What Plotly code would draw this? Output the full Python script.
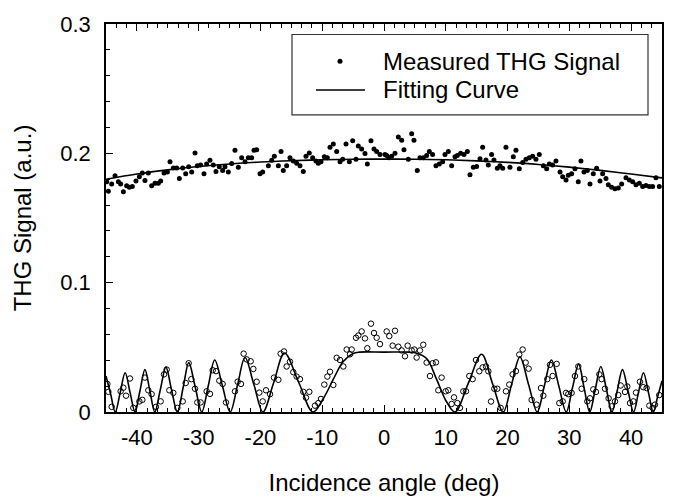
import plotly.graph_objects as go

# ---------------- data ----------------
# Upper series: measured THG signal (filled dots)
upper_angle = [-44.89, -44.62, -44.08, -43.54, -43.0, -42.63, -42.19, -41.66, -41.22, -40.74,
               -40.15, -39.60, -39.12, -38.69, -38.15, -37.61, -37.07, -36.53, -36.15, -35.61,
               -35.07, -34.64, -34.10, -33.56, -33.13, -32.59, -32.10, -31.62, -31.13, -30.59,
               -30.22, -29.68, -29.14, -28.71, -28.17, -27.63, -27.20, -26.66, -26.12, -25.74,
               -25.20, -24.66, -24.12, -23.58, -23.04, -22.50, -21.96, -21.42, -21.04, -20.61,
               -20.07, -19.64, -18.72, -18.18, -17.75, -17.10, -16.67, -16.30, -15.76, -15.22,
               -14.68, -14.14, -13.60, -13.06, -12.63, -12.09, -11.55, -11.01, -10.63, -10.20,
               -9.66, -9.17, -8.74, -8.20, -7.66, -7.12, -6.69, -6.15, -5.61, -5.07,
               -4.53, -4.16, -3.62, -3.08, -2.70, -2.11, -1.62, -1.19, -0.65, 0.16,
               0.43, 0.81, 1.24, 1.78, 2.32, 2.86, 3.23, 3.94, 4.48, 4.85,
               5.39, 5.82, 6.36, 6.90, 7.34, 7.87, 8.41, 8.95, 9.49, 9.87,
               10.41, 10.95, 11.49, 11.87, 12.41, 12.95, 13.49, 13.92, 14.46, 15.00,
               15.54, 15.97, 16.51, 16.89, 17.42, 17.80, 18.34, 18.77, 19.21, 19.74,
               20.39, 20.93, 21.36, 21.90, 22.44, 22.98, 23.52, 24.06, 24.60, 25.14,
               25.79, 26.33, 26.76, 27.30, 27.84, 28.49, 28.92, 29.46, 29.83, 30.37,
               30.91, 31.45, 31.88, 32.37, 32.91, 33.34, 33.88, 34.42, 34.96, 35.39,
               35.93, 36.31, 36.85, 37.39, 37.93, 38.47, 39.17, 39.71, 40.25, 40.79,
               41.33, 41.87, 42.41, 42.95, 43.48, 44.02, 44.56]
upper_signal = [0.1781, 0.1707, 0.1762, 0.1826, 0.1781, 0.1762, 0.1702, 0.1749, 0.1737, 0.1744,
                0.1786, 0.1818, 0.1848, 0.1789, 0.1848, 0.1749, 0.1769, 0.1769, 0.1786, 0.1848,
                0.1855, 0.1934, 0.1887, 0.1887, 0.1806, 0.1887, 0.1843, 0.1897, 0.1855, 0.2003,
                0.1904, 0.1909, 0.1843, 0.1917, 0.1946, 0.1909, 0.1860, 0.1897, 0.1868, 0.1897,
                0.1855, 0.1922, 0.2023, 0.1892, 0.1966, 0.1934, 0.1966, 0.1966, 0.2023, 0.2028,
                0.1843, 0.1855, 0.1904, 0.1946, 0.1978, 0.1904, 0.2015, 0.1868, 0.1904, 0.1966,
                0.1941, 0.1924, 0.1904, 0.1860, 0.1978, 0.2003, 0.1966, 0.1941, 0.1924, 0.1934,
                0.1973, 0.1966, 0.2047, 0.2072, 0.2015, 0.1934, 0.1954, 0.2072, 0.1934, 0.2097,
                0.1954, 0.2057, 0.2033, 0.1998, 0.1917, 0.2097, 0.2033, 0.2015, 0.1991, 0.1991,
                0.1983, 0.1966, 0.1978, 0.2000, 0.2126, 0.2102, 0.2028, 0.1954, 0.2151, 0.2102,
                0.1868, 0.1966, 0.1966, 0.1983, 0.2015, 0.1991, 0.1904, 0.1917, 0.1934, 0.1991,
                0.2015, 0.1904, 0.1973, 0.1983, 0.2000, 0.1991, 0.2015, 0.1835, 0.1892, 0.1899,
                0.1959, 0.2047, 0.1949, 0.1909, 0.1991, 0.1949, 0.1885, 0.1904, 0.1885, 0.2047,
                0.1892, 0.1973, 0.2023, 0.1880, 0.1929, 0.1954, 0.1966, 0.1978, 0.1954, 0.1991,
                0.1904, 0.1880, 0.1917, 0.1909, 0.1941, 0.1855, 0.1818, 0.1794, 0.1830, 0.1843,
                0.1880, 0.1781, 0.1941, 0.1855, 0.1868, 0.1762, 0.1843, 0.1885, 0.1786, 0.1843,
                0.1806, 0.1757, 0.1737, 0.1727, 0.1732, 0.1762, 0.1811, 0.1794, 0.1781, 0.1757,
                0.1769, 0.1744, 0.1752, 0.1744, 0.1744, 0.1811, 0.1744]

# Upper fitting curve
upper_fit_angle = [-45, -40, -35, -30, -25, -20, -15, -10, -5, 0, 5, 10, 15, 20, 25, 30, 35, 40, 45]
upper_fit_signal = [0.1800, 0.1840, 0.1872, 0.1898, 0.1918, 0.1933, 0.1943, 0.1950, 0.1954, 0.1955,
                    0.1954, 0.1950, 0.1942, 0.1930, 0.1914, 0.1893, 0.1868, 0.1840, 0.1810]

# Lower series: measured THG signal (open circles)
lower_angle = [-44.78, -44.62, -44.08, -42.63, -42.19, -41.76, -41.12, -40.58, -39.60, -39.12,
               -38.69, -38.15, -37.61, -36.91, -36.15, -35.61, -35.18, -34.75, -34.10, -33.45,
               -32.59, -32.10, -31.62, -31.19, -30.59, -30.22, -29.68, -28.71, -28.17, -27.73,
               -27.20, -26.66, -26.12, -25.58, -24.12, -23.69, -23.15, -22.72, -22.23, -21.58,
               -21.15, -20.61, -20.18, -19.64, -19.10, -18.45, -17.81, -17.10, -16.73, -16.19,
               -15.76, -15.22, -14.68, -14.14, -13.60, -13.06, -12.63, -12.09, -11.17, -10.63,
               -10.20, -9.66, -9.17, -8.74, -8.20, -7.66, -7.12, -6.58, -6.04, -5.51,
               -5.24, -4.53, -4.16, -3.62, -3.08, -2.70, -2.11, -1.62, -1.19, -0.65,
               0.43, 0.86, 1.40, 1.78, 2.32, 2.86, 3.40, 3.83, 4.48, 4.91,
               5.28, 5.82, 6.36, 6.90, 7.44, 7.87, 8.41, 8.79, 9.33, 9.98,
               10.41, 10.95, 11.33, 11.87, 12.30, 12.84, 13.27, 13.81, 14.35, 14.89,
               15.43, 15.97, 16.51, 16.89, 17.32, 17.86, 18.34, 18.88, 19.74, 20.28,
               20.82, 21.36, 21.90, 22.44, 22.93, 23.41, 23.90, 24.71, 25.41, 25.79,
               26.43, 26.87, 27.30, 27.95, 28.38, 28.92, 29.46, 29.83, 30.37, 30.91,
               31.45, 31.99, 32.42, 32.91, 33.34, 33.88, 34.31, 34.85, 35.23, 35.77,
               36.36, 36.85, 37.39, 37.93, 38.31, 39.01, 39.38, 39.82, 40.36, 40.79,
               41.43, 41.97, 42.51, 42.95, 43.49, 43.86, 44.56]
lower_signal = [0.0217, 0.0156, 0.0040, 0.0160, 0.0188, 0.0126, 0.0259, 0.0032, 0.0082, 0.0094,
                0.0266, 0.0168, 0.0138, 0.0040, 0.0082, 0.0291, 0.0328, 0.0168, 0.0148, 0.0032,
                0.0082, 0.0224, 0.0377, 0.0254, 0.0180, 0.0074, 0.0074, 0.0160, 0.0140, 0.0323,
                0.0316, 0.0242, 0.0217, 0.0074, 0.0160, 0.0234, 0.0217, 0.0451, 0.0407, 0.0392,
                0.0333, 0.0234, 0.0150, 0.0082, 0.0168, 0.0138, 0.0266, 0.0249, 0.0451, 0.0468,
                0.0352, 0.0389, 0.0308, 0.0274, 0.0254, 0.0156, 0.0111, 0.0156, 0.0049, 0.0069,
                0.0101, 0.0212, 0.0274, 0.0311, 0.0209, 0.0419, 0.0402, 0.0352, 0.0483, 0.0446,
                0.0483, 0.0574, 0.0591, 0.0623, 0.0569, 0.0493, 0.0683, 0.0611, 0.0574, 0.0525,
                0.0623, 0.0587, 0.0513, 0.0628, 0.0505, 0.0476, 0.0431, 0.0513, 0.0476, 0.0483,
                0.0421, 0.0476, 0.0520, 0.0382, 0.0278, 0.0377, 0.0384, 0.0168, 0.0266, 0.0160,
                0.0168, 0.0062, 0.0113, 0.0069, 0.0032, 0.0160, 0.0160, 0.0278, 0.0254, 0.0402,
                0.0315, 0.0345, 0.0352, 0.0315, 0.0081, 0.0180, 0.0180, 0.0032, 0.0160, 0.0212,
                0.0291, 0.0316, 0.0444, 0.0483, 0.0382, 0.0335, 0.0094, 0.0057, 0.0185, 0.0126,
                0.0254, 0.0365, 0.0278, 0.0372, 0.0069, 0.0082, 0.0148, 0.0138, 0.0148, 0.0278,
                0.0352, 0.0180, 0.0254, 0.0082, 0.0106, 0.0175, 0.0155, 0.0291, 0.0254, 0.0180,
                0.0106, 0.0044, 0.0082, 0.0131, 0.0205, 0.0155, 0.0197, 0.0069, 0.0082, 0.0150,
                0.0234, 0.0192, 0.0185, 0.0049, 0.0032, 0.0057, 0.0131]

# Lower fitting curve (peaks, zeros and half-height points)
lower_fit_angle = [-45.0, -44.25, -43.5, -42.7, -41.9, -41.1, -40.3, -39.5, -38.7, -37.9,
                   -37.1, -36.2, -35.3, -34.4, -33.45, -32.5, -31.6, -30.55, -29.5, -28.45,
                   -27.4, -26.15, -24.9, -23.7, -22.5, -21.05, -19.6, -17.85, -16.1, -13.8,
                   -11.5, -9.8, -8.2, -6.6, -5.0, -4.0, 0.0, 4.0, 5.3, 6.9,
                   8.5, 10.1, 11.5, 13.65, 15.8, 17.55, 19.3, 20.65, 22.0, 23.4,
                   24.8, 25.95, 27.1, 28.3, 29.5, 30.5, 31.5, 32.4, 33.3, 34.2,
                   35.1, 36.0, 36.9, 37.75, 38.6, 39.5, 40.4, 41.2, 42.0, 42.8,
                   43.6, 44.3, 45.0]
lower_fit_signal = [0.0278, 0.0139, 0.0, 0.0150, 0.0303, 0.0150, 0.0, 0.0164, 0.0328, 0.0164,
                    0.0, 0.0174, 0.0347, 0.0174, 0.0, 0.0191, 0.0382, 0.0191, 0.0, 0.0201,
                    0.0402, 0.0201, 0.0, 0.0211, 0.0421, 0.0211, 0.0, 0.0228, 0.0456, 0.0228,
                    0.0, 0.0106, 0.0254, 0.0390, 0.0452, 0.0463, 0.0463, 0.0463, 0.0455, 0.0414,
                    0.0254, 0.0081, 0.0, 0.0223, 0.0446, 0.0223, 0.0, 0.0213, 0.0426, 0.0213,
                    0.0, 0.0201, 0.0402, 0.0201, 0.0, 0.0185, 0.0370, 0.0185, 0.0, 0.0176,
                    0.0352, 0.0176, 0.0, 0.0164, 0.0328, 0.0164, 0.0, 0.0152, 0.0303, 0.0152,
                    0.0, 0.0120, 0.0240]

x_tick_vals = [-40, -30, -20, -10, 0, 10, 20, 30, 40]
x_tick_text = ["-40", "-30", "-20", "-10", "0", "10", "20", "30", "40"]
y_tick_vals = [0, 0.1, 0.2, 0.3]
y_tick_text = ["0", "0.1", "0.2", "0.3"]

legend_labels = ["Measured THG Signal", "Fitting Curve"]

# ---------------- figure ----------------
FONT = "Liberation Sans, Arial, Helvetica, sans-serif"
fig = go.Figure()

fig.add_trace(go.Scatter(x=lower_fit_angle, y=lower_fit_signal, mode="lines",
                         line=dict(color="black", width=1.6, shape="spline", smoothing=1.0),
                         showlegend=False, hoverinfo="skip"))
fig.add_trace(go.Scatter(x=upper_fit_angle, y=upper_fit_signal, mode="lines",
                         line=dict(color="black", width=1.6, shape="spline"),
                         name=legend_labels[1], showlegend=False))
fig.add_trace(go.Scatter(x=upper_angle, y=upper_signal, mode="markers",
                         marker=dict(color="black", size=5, symbol="circle"),
                         name=legend_labels[0], showlegend=False))
fig.add_trace(go.Scatter(x=lower_angle, y=lower_signal, mode="markers",
                         marker=dict(color="black", size=5.5, symbol="circle-open",
                                     line=dict(width=1, color="black")),
                         showlegend=False))

# plot area in pixels: x 106..662, y 15..421
W, H = 680, 504
L, R, T, B = 106, 680 - 662, 15, 504 - 421
pw, ph = W - L - R, H - T - B


def px(x):
    return (x - L) / pw


def py(y):
    return (H - B - y) / ph


# legend box drawn by hand so its size and layout match the original
LEG_TOP, LEG_BOT, ROW1, ROW2 = 26, 110, 54, 84
shapes = [
    dict(type="rect", xref="paper", yref="paper", x0=px(292), x1=px(648), y0=py(LEG_BOT), y1=py(LEG_TOP),
         line=dict(color="#333333", width=1.2), fillcolor="white", layer="above"),
    dict(type="circle", xref="paper", yref="paper", xsizemode="pixel", ysizemode="pixel",
         xanchor=px(340), yanchor=py(ROW1), x0=-2.5, x1=2.5, y0=-2.5, y1=2.5,
         fillcolor="black", line=dict(width=0), layer="above"),
    dict(type="line", xref="paper", yref="paper", x0=px(316), x1=px(365), y0=py(ROW2), y1=py(ROW2),
         line=dict(color="black", width=1.6), layer="above"),
]
annotations = [
    dict(xref="paper", yref="paper", x=px(381), y=py(ROW1), text=legend_labels[0], showarrow=False,
         xanchor="left", yanchor="middle", font=dict(family=FONT, size=24, color="black")),
    dict(xref="paper", yref="paper", x=px(381), y=py(ROW2), text=legend_labels[1], showarrow=False,
         xanchor="left", yanchor="middle", font=dict(family=FONT, size=24, color="black")),
]

fig.update_layout(
    width=W, height=H,
    margin=dict(l=L, r=R, t=T, b=B),
    paper_bgcolor="white", plot_bgcolor="white",
    font=dict(family=FONT, size=22, color="black"),
    showlegend=False,
    shapes=shapes, annotations=annotations,
)
fig.update_xaxes(
    range=[-45, 45], tickvals=x_tick_vals, ticktext=x_tick_text,
    ticks="inside", ticklen=7, tickwidth=1, tickcolor="black",
    showline=True, linecolor="black", linewidth=1.5, mirror="allticks",
    showgrid=False, zeroline=False, ticklabelstandoff=5,
    minor=dict(dtick=10 / 6, tick0=0, ticks="inside", ticklen=4, tickcolor="black", showgrid=False),
    title=dict(text="Incidence angle (deg)", font=dict(size=24), standoff=25),
    tickfont=dict(size=22),
)
fig.update_yaxes(
    range=[0, 0.3], tickvals=y_tick_vals, ticktext=y_tick_text,
    ticks="inside", ticklen=7, tickwidth=1, tickcolor="black",
    showline=True, linecolor="black", linewidth=1.5, mirror=True,
    showgrid=False, zeroline=False, ticklabelstandoff=9,
    minor=dict(dtick=0.02, ticks="inside", ticklen=4, tickcolor="black", showgrid=False),
    title=dict(text="THG Signal (a.u.)", font=dict(size=24), standoff=22),
    tickfont=dict(size=22),
)

# remove the browser's default 8px body margin so the figure sits at (0, 0); hide the mode bar
fig.write_html("out.html", config={"displayModeBar": False},
               post_script="document.body.style.margin='0px';")
